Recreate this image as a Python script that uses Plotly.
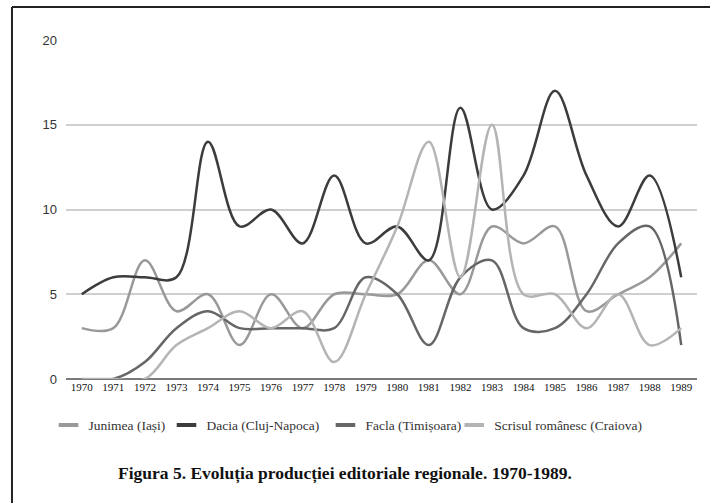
import plotly.graph_objects as go

years = list(range(1970, 1990))

junimea = [3, 3, 7, 4, 5, 2, 5, 3, 5, 5, 5, 7, 5, 9, 8, 9, 4, 5, 6, 8]
dacia = [5, 6, 6, 6, 14, 9, 10, 8, 12, 8, 9, 7, 16, 10, 12, 17, 12, 9, 12, 6]
facla = [0, 0, 1, 3, 4, 3, 3, 3, 3, 6, 5, 2, 6, 7, 3, 3, 5, 8, 9, 2]
scrisul = [0, 0, 0, 2, 3, 4, 3, 4, 1, 5, 9, 14, 6, 15, 5, 5, 3, 5, 2, 3]

names = ["Junimea (Iași)", "Dacia (Cluj-Napoca)", "Facla (Timișoara)", "Scrisul românesc (Craiova)"]
colors = ["#999999", "#3c3c3c", "#666666", "#b4b4b4"]
series = [junimea, dacia, facla, scrisul]

fig = go.Figure()

for name, vals, col in zip(names, series, colors):
    fig.add_trace(go.Scatter(
        x=years, y=vals, mode="lines", name=name,
        line=dict(color=col, width=2.5, shape="spline", smoothing=1),
        showlegend=False,
    ))

# short bar swatches, one legend per entry so the spacing can follow the original
legend_ids = ["legend", "legend2", "legend3", "legend4"]
legend_x = [-0.0277, 0.1593, 0.4112, 0.6153]
for name, col, lid in zip(names, colors, legend_ids):
    fig.add_trace(go.Scatter(
        x=[None], y=[None], mode="markers", name=name, legend=lid,
        marker=dict(symbol="line-ew", size=14, line=dict(color=col, width=4)),
    ))

serif = "Liberation Serif, Times New Roman, serif"

fig.update_layout(
    width=710, height=503, autosize=False,
    margin=dict(l=66, r=13, t=40, b=124),
    plot_bgcolor="white", paper_bgcolor="white",
    xaxis=dict(
        range=[1969.5, 1989.5], tick0=1970, dtick=1,
        showgrid=False, zeroline=False, ticks="",
        tickfont=dict(family=serif, size=11, color="#111"),
    ),
    yaxis=dict(
        range=[0, 20], dtick=5, tick0=0,
        showgrid=True, gridcolor="#cfcfcf", gridwidth=1.5,
        zeroline=True, zerolinecolor="#7a7a7a", zerolinewidth=2,
        ticks="", ticklabelstandoff=8,
        tickfont=dict(family="Liberation Sans", size=13, color="#333"),
    ),
    showlegend=True,
)

for lid, lx in zip(legend_ids, legend_x):
    fig.update_layout({lid: dict(
        orientation="h", x=lx, xanchor="left", y=-0.091, yanchor="top",
        font=dict(family=serif, size=13.5, color="#333"),
        bgcolor="rgba(0,0,0,0)",
    )})

fig.add_annotation(
    text="<b>Figura 5. Evoluția producției editoriale regionale. 1970-1989.</b>",
    xref="paper", yref="paper", x=0.442, y=-0.28,
    xanchor="center", yanchor="middle", showarrow=False,
    font=dict(family=serif, size=17.5, color="#111"),
)

# page frame (left and top border)
fig.add_shape(type="line", xref="paper", yref="paper",
              x0=-0.0856, x1=-0.0856, y0=1.0973, y1=-0.38,
              line=dict(color="#222", width=2))
fig.add_shape(type="line", xref="paper", yref="paper",
              x0=-0.0856, x1=1.03, y0=1.0973, y1=1.0973,
              line=dict(color="#222", width=2))

# drop the default 8px body margin so the figure fills the window, no modebar
fig.write_html("out.html", config={"displayModeBar": False},
               post_script="document.body.style.margin='0';")
